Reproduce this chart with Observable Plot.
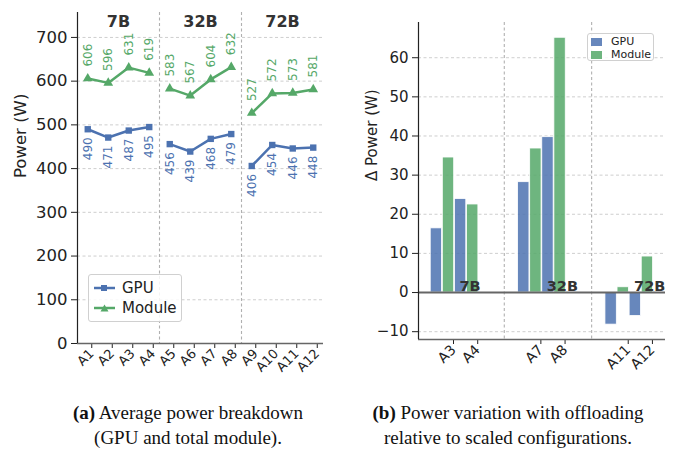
<!DOCTYPE html>
<html>
<head>
<meta charset="utf-8">
<script src="https://cdn.jsdelivr.net/npm/d3@7"></script>
<script src="https://cdn.jsdelivr.net/npm/@observablehq/plot@0.6"></script>
<style>
  html, body { margin: 0; padding: 0; background: #fff; }
  #root { position: relative; width: 681px; height: 453px; overflow: hidden; font-family: "DejaVu Sans", sans-serif; }
  .panel { position: absolute; top: 0; }
  .legend { position: absolute; background: rgba(255,255,255,0.85); border: 1px solid #d0d0d0; border-radius: 3px; box-sizing: border-box; }
  .legend .row { position: absolute; display: flex; align-items: center; white-space: nowrap; color: #222; }
  .caption { position: absolute; top: 400px; width: 340px; text-align: center; font-family: "Liberation Serif", "Times New Roman", serif; font-size: 19px; line-height: 25px; color: #111; }
</style>
</head>
<body>
<div id="root">
  <div id="a" class="panel" style="left:0"></div>
  <div id="b" class="panel" style="left:340px"></div>
  <div class="legend" style="left:88px; top:274px; width:94px; height:48px;">
    <div class="row" style="left:4px; top:3px; height:20px; font-size:15px;">
      <svg width="23" height="10" style="margin-right:6px"><line x1="1" y1="5" x2="22" y2="5" stroke="#4C72B0" stroke-width="2.5"/><rect x="8" y="2" width="6" height="6" fill="#4C72B0"/></svg>GPU
    </div>
    <div class="row" style="left:4px; top:23px; height:20px; font-size:15px;">
      <svg width="23" height="10" style="margin-right:6px"><line x1="1" y1="5" x2="22" y2="5" stroke="#55A868" stroke-width="2.5"/><path d="M11.5,1.5 L15.5,8.5 L7.5,8.5 Z" fill="#55A868"/></svg>Module
    </div>
  </div>
  <div class="legend" style="left:587px; top:33px; width:67px; height:28px;">
    <div class="row" style="left:3px; top:1px; height:13px; font-size:11px;">
      <span style="display:inline-block;width:11px;height:8px;background:#4C72B0;opacity:0.85;margin-right:9px"></span>GPU
    </div>
    <div class="row" style="left:3px; top:14px; height:13px; font-size:11px;">
      <span style="display:inline-block;width:11px;height:8px;background:#55A868;opacity:0.85;margin-right:9px"></span>Module
    </div>
  </div>
  <div class="caption" style="left:18px;"><b>(a)</b> Average power breakdown<br>(GPU and total module).</div>
  <div class="caption" style="left:338px;"><b>(b)</b> Power variation with offloading<br>relative to scaled configurations.</div>
</div>
<script>
// ---------- data ----------
const configs = ["A1","A2","A3","A4","A5","A6","A7","A8","A9","A10","A11","A12"];
const models = ["7B","32B","72B"];
const gpuPower = [490,471,487,495,456,439,468,479,406,454,446,448];
const modulePower = [606,596,631,619,583,567,604,632,527,572,573,581];
const powerTicks = [0,100,200,300,400,500,600,700];

const deltaConfigs = ["A3","A4","A7","A8","A11","A12"];
const deltaGpu = [16.4,23.9,28.2,39.7,-8.2,-6.0];
const deltaModule = [34.5,22.5,36.8,65.1,1.35,9.2];
const deltaTicks = [-10,0,10,20,30,40,50,60];

// ---------- styling / layout constants ----------
const BLUE = "#4C72B0", GREEN = "#55A868", DARK = "#222";
const FONT = "DejaVu Sans";
const perGroup = 4;

// ---------- left panel ----------
const rowsA = configs.map((c, i) => ({i, config: c, group: Math.floor(i / perGroup), gpu: gpuPower[i], module: modulePower[i]}));
const sepA = models.slice(1).map((_, g) => (g + 1) * perGroup - 0.5);
const titleA = models.map((m, g) => ({m, x: g * perGroup + (perGroup - 1) / 2}));

const chartA = Plot.plot({
  width: 340, height: 395,
  marginLeft: 77, marginRight: 17, marginTop: 12, marginBottom: 52,
  style: {fontFamily: FONT, background: "transparent", overflow: "visible", color: DARK},
  x: {domain: [-0.5, configs.length - 0.5], axis: null},
  y: {domain: [0, 757], axis: null},
  marks: [
    Plot.ruleY(powerTicks.filter(t => t > 0), {stroke: "#c8c8c8", strokeDasharray: "3,2.5", strokeWidth: 0.9}),
    Plot.ruleX(sepA, {stroke: "#b0b0b0", strokeDasharray: "3,2.5", strokeWidth: 1.1}),
    Plot.axisY({ticks: powerTicks, tickSize: 6, tickPadding: 4, fontSize: 16.5, label: null, color: DARK}),
    Plot.axisX({ticks: rowsA.map(d => d.i), tickFormat: i => configs[i], tickSize: 5, tickPadding: 3, tickRotate: -45, fontSize: 13, label: null, color: DARK, dx: 4}),
    Plot.ruleY([0], {stroke: "#666", strokeWidth: 1.6}),
    Plot.ruleX([-0.5], {stroke: DARK, strokeWidth: 1.2}),
    Plot.text(["Power (W)"], {text: d => d, frameAnchor: "left", dx: -57, rotate: -90, fontSize: 16.5, fill: DARK}),
    Plot.text(titleA, {x: "x", text: "m", frameAnchor: "top", dy: 3.5, fontWeight: "bold", fontSize: 16, fill: "#333"}),
    Plot.line(rowsA, {x: "i", y: "gpu", z: "group", stroke: BLUE, strokeWidth: 2.5}),
    Plot.dot(rowsA, {x: "i", y: "gpu", symbol: "square", r: 3.6, fill: BLUE}),
    Plot.line(rowsA, {x: "i", y: "module", z: "group", stroke: GREEN, strokeWidth: 2.5}),
    Plot.dot(rowsA, {x: "i", y: "module", symbol: "triangle", r: 3.6, fill: GREEN}),
    Plot.text(rowsA, {x: "i", y: "module", text: d => String(d.module), rotate: -90, textAnchor: "start", dy: -12, fontSize: 12, fill: GREEN}),
    Plot.text(rowsA, {x: "i", y: "gpu", text: d => String(d.gpu), rotate: -90, textAnchor: "end", dy: 8, fontSize: 12, fill: BLUE})
  ]
});
document.getElementById("a").appendChild(chartA);

// ---------- right panel ----------
const G = 3.61;          // spacing between model groups (in config-step units)
const BW = 0.47;         // bar width
const pos = k => Math.floor(k / 2) * G + (k % 2);
const rowsB = deltaConfigs.map((c, k) => ({k, config: c, x: pos(k), gpu: deltaGpu[k], module: deltaModule[k]}));
const sepB = models.slice(1).map((_, g) => g * G + (1 + G) / 2);
const labelsB = models.map((m, g) => ({m, x: g * G + 0.45}));

const chartB = Plot.plot({
  width: 341, height: 395,
  marginLeft: 78, marginRight: 16, marginTop: 22, marginBottom: 56,
  style: {fontFamily: FONT, background: "transparent", overflow: "visible", color: DARK},
  x: {domain: [-1.24, 8.967], axis: null},
  y: {domain: [-12, 69], axis: null},
  marks: [
    Plot.ruleY(deltaTicks.filter(t => t !== 0), {stroke: "#c8c8c8", strokeDasharray: "3,2.5", strokeWidth: 0.9}),
    Plot.ruleX(sepB, {stroke: "#b0b0b0", strokeDasharray: "3,2.5", strokeWidth: 1.1}),
    Plot.rect(rowsB, {x1: d => d.x - 0.5 - BW / 2, x2: d => d.x - 0.5 + BW / 2, y1: 0, y2: "gpu", fill: BLUE, fillOpacity: 0.85, stroke: "white", strokeWidth: 0.8}),
    Plot.rect(rowsB, {x1: d => d.x - BW / 2, x2: d => d.x + BW / 2, y1: 0, y2: "module", fill: GREEN, fillOpacity: 0.85, stroke: "white", strokeWidth: 0.8}),
    Plot.ruleY([0], {stroke: "#666", strokeWidth: 2}),
    Plot.axisY({ticks: deltaTicks, tickSize: 6, tickPadding: 4, fontSize: 15, label: null, color: DARK}),
    Plot.axisX({ticks: rowsB.map(d => d.x), tickFormat: v => deltaConfigs[rowsB.findIndex(d => d.x === v)], tickSize: 5, tickPadding: 3, tickRotate: -45, fontSize: 14, label: null, color: DARK, dx: 5}),
    Plot.ruleY([-12], {stroke: "#666", strokeWidth: 1.6}),
    Plot.ruleX([-1.24], {stroke: DARK, strokeWidth: 1.2}),
    Plot.text(["Δ Power (W)"], {text: d => d, frameAnchor: "left", dx: -46, rotate: -90, fontSize: 15, fill: DARK}),
    Plot.text(labelsB, {x: "x", y: 0, text: "m", textAnchor: "start", lineAnchor: "bottom", dy: -2, fontWeight: "bold", fontSize: 14.5, fill: "#333"})
  ]
});
document.getElementById("b").appendChild(chartB);
</script>
</body>
</html>
